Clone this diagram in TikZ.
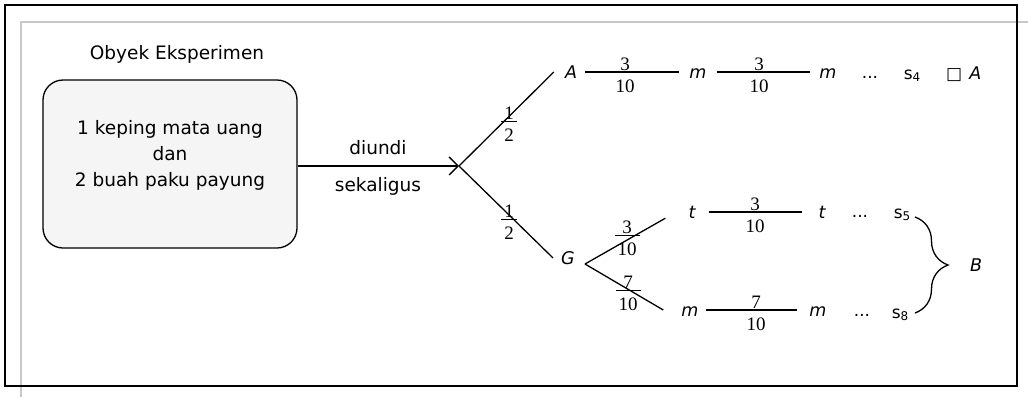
\documentclass[tikz,border=0pt]{standalone}
\usepackage{fontspec}
\setmainfont{DejaVu Sans}
\newfontfamily\serifnum{Liberation Serif}
\usetikzlibrary{arrows.meta,decorations.pathreplacing}
\definecolor{boxfill}{RGB}{245,245,245}
\definecolor{framegray}{RGB}{200,200,200}
\newcommand\fracf[2]{{\setlength\arrayrulewidth{1.3pt}\begin{tabular}[t]{@{\kern3pt}c@{\kern3pt}}#1\\[-5.5pt]\hline\rule{0pt}{19.5pt}#2\end{tabular}}}
\begin{document}
\begin{tikzpicture}[x=1pt,y=-1pt,
  lbl/.style={font=\fontsize{18.5}{26}\selectfont, inner sep=0pt},
  var/.style={font=\fontsize{17.5}{20}\selectfont\itshape, inner sep=0pt, text height=12pt, text depth=0pt, anchor=base},
  dotsl/.style={font=\fontsize{17}{20}\selectfont, inner sep=0pt, anchor=base},
  snode/.style={font=\fontsize{17}{20}\selectfont, inner sep=0pt, anchor=base},
  frac/.style={font=\fontsize{19}{23}\selectfont\serifnum, inner sep=0pt, anchor=base},
  conn/.style={line width=1.3pt},
  bracestyle/.style={line width=1.3pt, decorate, decoration={brace, amplitude=33pt}}]
\useasboundingbox (0,0) rectangle (1028,397);
% frames
\draw[line width=2pt, framegray] (21,397) -- (21,22) -- (1028,22);
\draw[line width=2pt] (5,5) rectangle (1017,386);
% object box
\node[lbl, anchor=base] (title) at (177,59) {Obyek Eksperimen};
\node[draw, line width=1.3pt, fill=boxfill, rounded corners=20pt, minimum width=254pt, minimum height=168pt] (obj) at (170,164) {};
\node[lbl, align=center] (objtext) at (170,155) {1 keping mata uang\\dan\\2 buah paku payung};
\coordinate (root) at (459,166);
\draw[conn, -{Straight Barb[length=9pt,width=18pt]}] (obj.east |- root) -- (root);
\node[lbl, anchor=base] (diundi) at (378,154) {diundi};
\node[lbl, anchor=base] (sekaligus) at (378,191) {sekaligus};
% top branch
\node[var] (A) at (571,78) {A};
\node[var] (m1) at (698,78) {m};
\node[var] (m2) at (828,78) {m};
\node[dotsl] (d1) at (870,78) {...};
\node[snode] (s4) at (912,79) {s\raisebox{-2pt}{\fontsize{12}{14}\selectfont 4}};
\node[snode, anchor=base west] (inA) at (946,79) {□\hspace{7pt}{\fontsize{17.5}{20}\selectfont\itshape A}};
\draw[conn] (root) -- ([xshift=-11pt]A.west);
\draw[conn] ([xshift=8pt]A.east) -- ([xshift=-10pt]m1.west);
\draw[conn] ([xshift=10pt]m1.east) -- ([xshift=-9pt]m2.west);
\node[frac] (h1) at (509,119.6) {\fracf{1}{2}};
\node[frac] (fA) at (625,70.6) {\fracf{3}{10}};
\node[frac] (fA2) at (759,70.6) {\fracf{3}{10}};
% bottom branch
\node[var] (G) at (568,264) {G};
\draw[conn] (root) -- ([xshift=-8pt]G.west);
\node[frac] (h2) at (509,217.6) {\fracf{1}{2}};
\coordinate (gf) at (585,264);
\node[var] (t1) at (692,218) {t};
\node[var] (t2) at (822,218) {t};
\node[dotsl] (d2) at (860,217) {...};
\node[snode] (s5) at (902,218) {s\raisebox{-2pt}{\fontsize{12}{14}\selectfont 5}};
\node[var] (m3) at (690,316) {m};
\node[var] (m4) at (818,316) {m};
\node[dotsl] (d3) at (862,316) {...};
\node[snode] (s8) at (900,318) {s\raisebox{-2pt}{\fontsize{12}{14}\selectfont 8}};
\draw[conn] (gf) -- ([xshift=-23pt]t1.south west);
\draw[conn] (gf) -- ([xshift=-18pt]m3.west);
\draw[conn] ([xshift=13pt]t1.east) -- ([xshift=-16pt]t2.west);
\draw[conn] ([xshift=7pt]m3.east) -- ([xshift=-12pt]m4.west);
\node[frac] (fGt) at (627,233.6) {\fracf{3}{10}};
\node[frac] (fGm) at (628,288.6) {\fracf{7}{10}};
\node[frac] (ftt) at (755,210.6) {\fracf{3}{10}};
\node[frac] (fmm) at (756,308.6) {\fracf{7}{10}};
% brace
\coordinate (bt) at (915,217);
\coordinate (bb) at (915,313);
\draw[bracestyle] (bt) -- (bb);
\node[var] (B) at (976,271) {B};
\end{tikzpicture}
\end{document}
